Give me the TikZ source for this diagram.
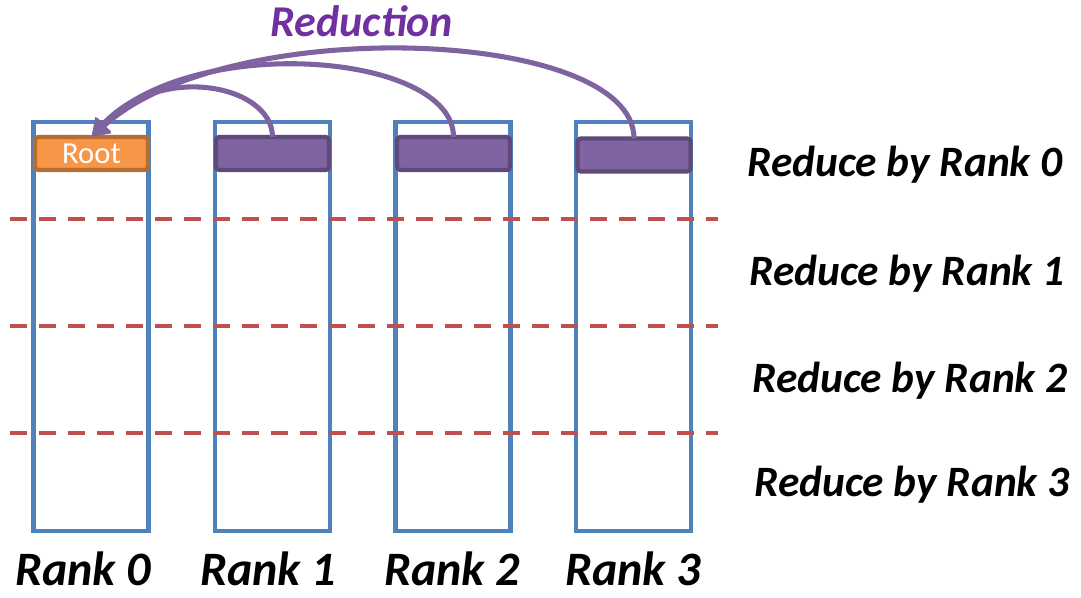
\documentclass[tikz,border=0pt]{standalone}
\usepackage{fontspec}
\setmainfont{Carlito}
\usetikzlibrary{arrows.meta}
\definecolor{colblue}{HTML}{4F81BD}
\definecolor{dashred}{HTML}{C0504D}
\definecolor{rootfill}{HTML}{F79646}
\definecolor{rootedge}{HTML}{B66D31}
\definecolor{purpfill}{HTML}{8064A2}
\definecolor{purpedge}{HTML}{5E4A7A}
\definecolor{arrowpurp}{HTML}{7F63A1}
\definecolor{titlepurp}{HTML}{7030A0}
\tikzset{
  column/.style={draw=colblue, line width=3.2pt, minimum width=86.25pt, minimum height=306.75pt, inner sep=0pt, outer sep=0pt},
  rootbox/.style={draw=rootedge, fill=rootfill, line width=3.2pt, rounded corners=2.5pt, minimum width=84.75pt, minimum height=24.75pt, inner sep=0pt, outer sep=0pt, text=white, font=\fontsize{23}{23}\selectfont},
  databox/.style={draw=purpedge, fill=purpfill, line width=3.2pt, rounded corners=2.5pt, minimum width=84.75pt, minimum height=24.75pt, inner sep=0pt, outer sep=0pt},
  sep/.style={draw=dashred, line width=3pt, dash pattern=on 12.75pt off 9pt},
  redarrow/.style={draw=arrowpurp, line width=3.8pt, -{Triangle[length=13pt,width=15pt]}},
  sidelabel/.style={font=\fontsize{32.5}{32.5}\selectfont\bfseries\itshape, inner sep=0pt},
  ranklabel/.style={font=\fontsize{36}{36}\selectfont\bfseries\itshape, inner sep=0pt, text depth=0pt, anchor=base},
  titlelabel/.style={font=\fontsize{33}{33}\selectfont\bfseries\itshape, text=titlepurp, inner sep=0pt}
}
\begin{document}
\begin{tikzpicture}[x=0.75pt,y=-0.75pt]
\useasboundingbox (0,0) rectangle (1081,598);
% columns
\node[column] (c0) at (91,326.5) {};
\node[column] (c1) at (272.5,326.5) {};
\node[column] (c2) at (453,326.5) {};
\node[column] (c3) at (633.5,326.5) {};
% dashed separators
\coordinate (s1a) at (10,219); \coordinate (s1b) at (718,219);
\coordinate (s2a) at (10,326); \coordinate (s2b) at (718,326);
\coordinate (s3a) at (10,433); \coordinate (s3b) at (718,433);
\draw[sep] (s1a) -- (s1b);
\draw[sep] (s2a) -- (s2b);
\draw[sep] (s3a) -- (s3b);
% boxes
\node[rootbox] (root) at (91.5,153.5) {Root};
\node[databox] (d1) at (272.5,153.5) {};
\node[databox] (d2) at (453.5,153.5) {};
\node[databox] (d3) at (634,155) {};
% arrows
\draw[redarrow] (d1.north) .. controls ++(0,-52) and (160,62) .. (root.north);
\draw[redarrow] (d2.north) .. controls ++(0,-85) and (190,32) .. (root.north);
\draw[redarrow] (d3.north) .. controls ++(0,-110) and (230,12) .. (root.north);
% labels
\node[titlelabel] (title) at (362,21) {Reduction};
\node[sidelabel] (r0) at (905,165) {Reduce by Rank 0};
\node[sidelabel] (r1) at (907,274) {Reduce by Rank 1};
\node[sidelabel] (r2) at (910,381) {Reduce by Rank 2};
\node[sidelabel] (r3) at (912,485) {Reduce by Rank 3};
\node[ranklabel] (k0) at (83,585) {Rank 0};
\node[ranklabel] (k1) at (268,585) {Rank 1};
\node[ranklabel] (k2) at (452,585) {Rank 2};
\node[ranklabel] (k3) at (633,585) {Rank 3};
\end{tikzpicture}
\end{document}
